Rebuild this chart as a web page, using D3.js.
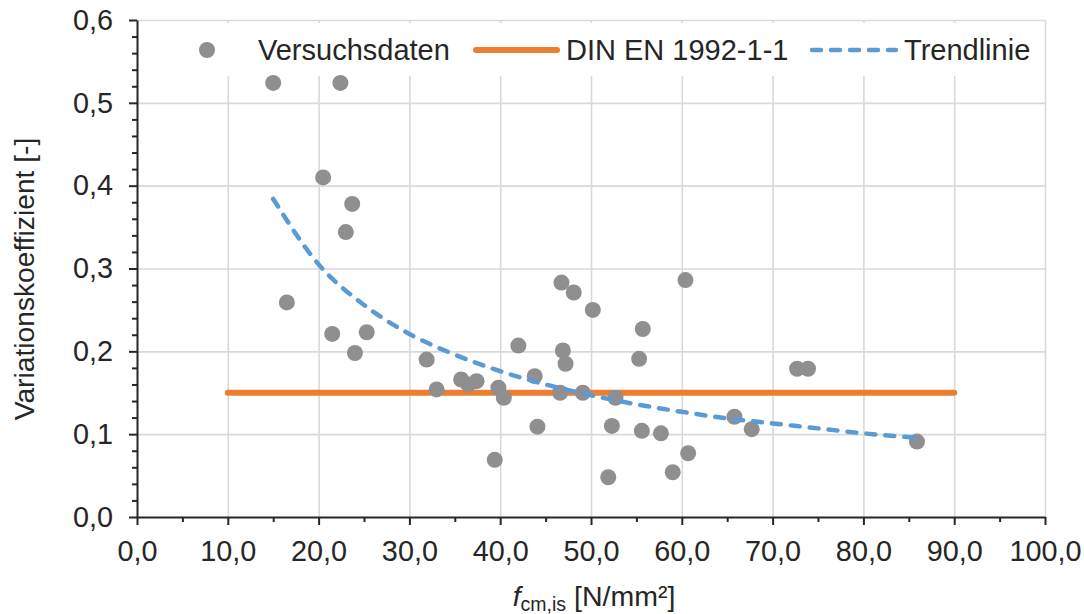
<!DOCTYPE html>
<html>
<head>
<meta charset="utf-8">
<script src="https://cdn.jsdelivr.net/npm/d3@7"></script>
<style>
  body { margin: 0; background: #fff; }
  svg { font-family: "Liberation Sans", Arial, sans-serif; }
  .axis path, .axis line { stroke: #262626; stroke-width: 2; }
  .axis text { font-size: 28.8px; fill: #262626; }
  .grid line { stroke: #d9d9d9; stroke-width: 1.6; }
  .grid path { display: none; }
</style>
</head>
<body>
<div id="chart"></div>
<script>
// Versuchsdaten (f_cm,is / Variationskoeffizient)
var fcm = [15.0, 22.4, 20.5, 23.7, 23.0, 16.5, 21.5, 25.3, 24.0, 31.9,
  33.0, 35.7, 36.5, 37.4, 39.8, 40.4, 39.4, 42.0, 43.8, 44.1,
  46.6, 46.75, 46.9, 47.2, 48.1, 49.1, 50.2, 51.9, 52.3, 52.7,
  55.3, 55.6, 55.7, 57.7, 59.0, 60.4, 60.7, 65.8, 67.7, 72.7,
  73.9, 85.9];
var cov = [0.524, 0.524, 0.410, 0.378, 0.344, 0.259, 0.221, 0.223, 0.198, 0.190,
  0.154, 0.166, 0.160, 0.164, 0.156, 0.144, 0.069, 0.207, 0.170, 0.109,
  0.150, 0.283, 0.201, 0.185, 0.271, 0.150, 0.250, 0.048, 0.110, 0.144,
  0.191, 0.104, 0.227, 0.101, 0.054, 0.286, 0.077, 0.121, 0.106, 0.179,
  0.179, 0.091];

// DIN EN 1992-1-1
var dinX = [10, 90];
var dinY = [0.15, 0.15];

// Trendlinie
var trendX = [15, 20, 25, 30, 35, 40, 45, 50, 55, 60, 65, 70, 75, 80, 86];
var trendY = [0.384, 0.305, 0.256, 0.221, 0.196, 0.176, 0.160, 0.147, 0.136, 0.127, 0.119, 0.113, 0.107, 0.101, 0.0955];

var xTicks = [0, 10, 20, 30, 40, 50, 60, 70, 80, 90, 100];
var xMinor = [5, 15, 25, 35, 45, 55, 65, 75, 85, 95];
var yTicks = [0, 0.1, 0.2, 0.3, 0.4, 0.5, 0.6];
var yMinor = [0.02, 0.04, 0.06, 0.08, 0.12, 0.14, 0.16, 0.18, 0.22, 0.24, 0.26, 0.28,
  0.32, 0.34, 0.36, 0.38, 0.42, 0.44, 0.46, 0.48, 0.52, 0.54, 0.56, 0.58];

var legendNames = ['Versuchsdaten', 'DIN EN 1992-1-1', 'Trendlinie'];

var width = 1084, height = 614;
var plotLeft = 137, plotRight = 1045, plotTop = 20, plotBottom = 517;

var de = d3.formatLocale({ decimal: ',', thousands: '.', grouping: [3], currency: ['', '€'] });
var fmt = de.format('.1f');

var svg = d3.select('#chart').append('svg')
  .attr('width', width)
  .attr('height', height);

var x = d3.scaleLinear().domain([0, 100]).range([plotLeft, plotRight]);
var y = d3.scaleLinear().domain([0, 0.6]).range([plotBottom, plotTop]);

// Gitternetz
svg.append('g')
  .attr('class', 'grid')
  .attr('transform', 'translate(0,' + plotBottom + ')')
  .call(d3.axisBottom(x).tickValues(xTicks.slice(1)).tickSize(-(plotBottom - plotTop)).tickFormat(''));
svg.append('g')
  .attr('class', 'grid')
  .attr('transform', 'translate(' + plotLeft + ',0)')
  .call(d3.axisLeft(y).tickValues(yTicks.slice(1)).tickSize(-(plotRight - plotLeft)).tickFormat(''));

// Legendenhintergrund
svg.append('rect')
  .attr('x', 187).attr('y', 23)
  .attr('width', 853).attr('height', 53)
  .attr('fill', '#fff');

// Achsen
svg.append('g')
  .attr('class', 'axis')
  .attr('transform', 'translate(0,' + plotBottom + ')')
  .call(d3.axisBottom(x).tickValues(xMinor).tickSize(5).tickFormat(''))
  .select('.domain').remove();
svg.append('g')
  .attr('class', 'axis')
  .attr('transform', 'translate(' + plotLeft + ',0)')
  .call(d3.axisLeft(y).tickValues(yMinor).tickSize(5).tickFormat(''))
  .select('.domain').remove();
svg.append('g')
  .attr('class', 'axis')
  .attr('transform', 'translate(0,' + plotBottom + ')')
  .call(d3.axisBottom(x).tickValues(xTicks).tickSize(8).tickSizeOuter(0).tickPadding(16).tickFormat(fmt));
svg.append('g')
  .attr('class', 'axis')
  .attr('transform', 'translate(' + plotLeft + ',0)')
  .call(d3.axisLeft(y).tickValues(yTicks).tickSize(8).tickSizeOuter(0).tickPadding(16).tickFormat(fmt));

// DIN-Linie
svg.append('path')
  .datum(dinX.map((d, i) => [d, dinY[i]]))
  .attr('fill', 'none')
  .attr('stroke', '#ed7d31')
  .attr('stroke-width', 6)
  .attr('stroke-linecap', 'round')
  .attr('d', d3.line().x(d => x(d[0])).y(d => y(d[1])));

// Punkte
svg.append('g')
  .selectAll('circle')
  .data(fcm.map((d, i) => [d, cov[i]]))
  .enter().append('circle')
  .attr('cx', d => x(d[0]))
  .attr('cy', d => y(d[1]))
  .attr('r', 8)
  .attr('fill', '#8f8f8f');

// Trendlinie
svg.append('path')
  .datum(trendX.map((d, i) => [d, trendY[i]]))
  .attr('fill', 'none')
  .attr('stroke', '#5b9bd5')
  .attr('stroke-width', 4.5)
  .attr('stroke-linecap', 'round')
  .attr('stroke-dasharray', '9,10')
  .attr('d', d3.line().curve(d3.curveMonotoneX).x(d => x(d[0])).y(d => y(d[1])));

// Legende
var lg = svg.append('g').attr('font-size', 29).attr('fill', '#262626');
lg.append('circle').attr('cx', 207).attr('cy', 50).attr('r', 8).attr('fill', '#8f8f8f');
lg.append('text').attr('x', 258).attr('y', 60).text(legendNames[0]);
lg.append('line').attr('x1', 476).attr('x2', 557).attr('y1', 50).attr('y2', 50)
  .attr('stroke', '#ed7d31').attr('stroke-width', 6).attr('stroke-linecap', 'round');
lg.append('text').attr('x', 566).attr('y', 60).text(legendNames[1]);
lg.append('line').attr('x1', 812).attr('x2', 896).attr('y1', 50).attr('y2', 50)
  .attr('stroke', '#5b9bd5').attr('stroke-width', 4.5).attr('stroke-linecap', 'round')
  .attr('stroke-dasharray', '9,10');
lg.append('text').attr('x', 904).attr('y', 60).text(legendNames[2]);

// Achsentitel
svg.append('text')
  .attr('transform', 'translate(34,279) rotate(-90)')
  .attr('text-anchor', 'middle')
  .attr('font-size', 28.2)
  .attr('fill', '#262626')
  .text('Variationskoeffizient [-]');

var xt = svg.append('text')
  .attr('x', 594).attr('y', 606)
  .attr('text-anchor', 'middle')
  .attr('font-size', 28.5)
  .attr('fill', '#262626');
xt.append('tspan').attr('font-style', 'italic').text('f');
xt.append('tspan').attr('font-size', 19.5).attr('dy', 5).text('cm,is');
xt.append('tspan').attr('dy', -5).text(' [N/mm²]');
</script>
</body>
</html>
